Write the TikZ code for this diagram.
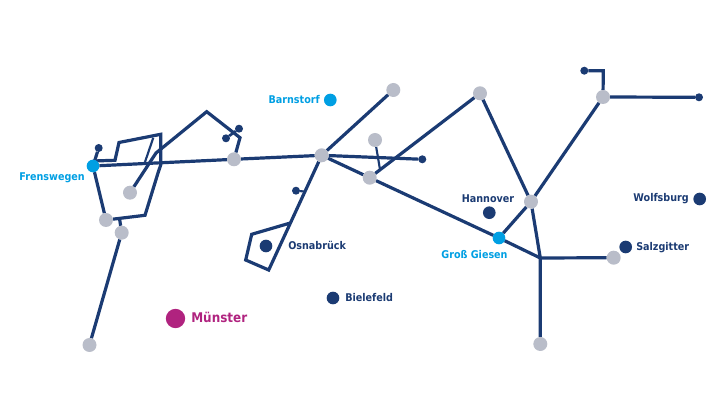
\documentclass[tikz,border=0pt]{standalone}
\usepackage{xcolor}
\usepackage{fontspec}
\setmainfont{DejaVu Sans Condensed}
\definecolor{linenavy}{HTML}{1B3B73}
\definecolor{siteblue}{HTML}{009FE3}
\definecolor{hubgray}{HTML}{B9BDC9}
\definecolor{citypink}{HTML}{B0237F}
\usetikzlibrary{backgrounds}

\begin{document}
\begin{tikzpicture}[
    x=0.75pt, y=-0.75pt,
    dot/.style={circle, inner sep=0pt, outer sep=0pt},
    hub/.style={dot, fill=hubgray, minimum size=10.5pt},
    site/.style={dot, fill=siteblue, minimum size=9.5pt},
    city/.style={dot, fill=linenavy, minimum size=9.5pt},
    stub/.style={dot, fill=linenavy, minimum size=6pt},
    lbl/.style={font=\bfseries\fontsize{8}{10}\selectfont, text=linenavy, inner sep=0pt},
    sitelbl/.style={lbl, text=siteblue},
    pipe/.style={draw=linenavy, line width=2.4pt},
    thinpipe/.style={draw=linenavy, line width=1.6pt}
  ]
    \useasboundingbox (0,0) rectangle (728,409);
    % bends
    \coordinate (f0) at (93,161);
    \coordinate (f1) at (115,160.3);
    \coordinate (f2) at (119,142.5);
    \coordinate (f3) at (160.7,134.3);
    \coordinate (f4) at (160.7,165);
    \coordinate (f5) at (158,173);
    \coordinate (f6) at (145,215.3);
    \coordinate (f7) at (119.5,218.5);
    \coordinate (t1) at (153.3,137.7);
    \coordinate (t2) at (145,162);
    \coordinate (p1) at (156,153);
    \coordinate (p2) at (206.7,111.7);
    \coordinate (p3) at (240,137.7);
    \coordinate (o1) at (289.3,223.3);
    \coordinate (o2) at (251.7,234.3);
    \coordinate (o3) at (245.7,260);
    \coordinate (o4) at (268.7,270);
    \coordinate (s1) at (304,191.5);
    \coordinate (a1) at (380,169.5);
    \coordinate (g1) at (540.3,258);
    \coordinate (n1) at (603.3,70.7);
    % stations
    \node[hub] (nordhorn) at (106,220) {};
    \node[hub] (lingen) at (121.7,232.7) {};
    \node[hub] (meppen) at (130,192.7) {};
    \node[hub] (haren) at (234,159.3) {};
    \node[hub] (rheine) at (89.5,345) {};
    \node[hub] (vechta) at (321.7,155.3) {};
    \node[hub] (diepholz) at (393.3,90) {};
    \node[hub] (sulingen) at (375,140) {};
    \node[hub] (nienburg) at (369.7,177.7) {};
    \node[hub] (walsrode) at (480,93.3) {};
    \node[hub] (peine) at (531,201.7) {};
    \node[hub] (gifhorn) at (603,97) {};
    \node[hub] (hildes) at (613.7,257.7) {};
    \node[hub] (goslar) at (540.3,344) {};
    \node[stub] (s_fren) at (98.7,148) {};
    \node[stub] (s_east) at (239,128.7) {};
    \node[stub] (s_west) at (226,138.3) {};
    \node[stub] (s_osna) at (296,190.7) {};
    \node[stub] (s_mid) at (422.3,159.3) {};
    \node[stub] (s_top) at (584.3,70.7) {};
    \node[stub] (s_far) at (699,97.3) {};
    \node[site] (frenswegen) at (93,166) {};
    \node[site] (giesen) at (499,238) {};
    % lines
    \begin{scope}[on background layer]
    \draw[thinpipe] (t1) -- (t2);
    \draw[thinpipe] (sulingen) -- (a1);
    \draw[pipe, line width=2pt] (s_west) -- (s_east);
    \draw[pipe] (f0) -- (f1) -- (f2) -- (f3) -- (f4) -- (f5) -- (f6) -- (nordhorn);
    \draw[pipe] (frenswegen) -- (haren) -- (vechta);
    \draw[pipe] (frenswegen) -- (nordhorn);
    \draw[pipe] (frenswegen) -- (s_fren);
    \draw[pipe] (f7) -- (lingen) -- (rheine);
    \draw[pipe] (meppen) -- (p1) -- (p2) -- (p3) -- (haren);
    \draw[pipe] (vechta) -- (diepholz);
    \draw[pipe] (vechta) -- (s_mid);
    \draw[pipe] (vechta) -- (nienburg) -- (giesen) -- (g1) -- (hildes);
    \draw[pipe] (nienburg) -- (walsrode) -- (peine) -- (g1) -- (goslar);
    \draw[pipe] (giesen) -- (peine) -- (gifhorn) -- (s_far);
    \draw[pipe] (gifhorn) -- (n1) -- (s_top);
    \draw[pipe] (vechta) -- (o4) -- (o3) -- (o2) -- (o1);
    \draw[thinpipe] (s_osna) -- (s1);
    \end{scope}
    % cities
    \node[site] (barnstorf) at (330.3,100) {};
    \node[city] (osnabrueck) at (266,246) {};
    \node[city] (bielefeld) at (333,298) {};
    \node[city] (hannover) at (489.3,212.7) {};
    \node[city] (salzgitter) at (625.7,247) {};
    \node[city] (wolfsburg) at (699.7,199) {};
    \node[dot, fill=citypink, minimum size=14.5pt] (muenster) at (175.5,318.5) {};
    % labels
    \node[sitelbl, anchor=base east] (l_fren) at (85,180.5) {Frenswegen};
    \node[sitelbl, anchor=base east] (l_barn) at (320,103.5) {Barnstorf};
    \node[sitelbl, anchor=base] (l_gies) at (474.5,259) {Groß Giesen};
    \node[lbl, anchor=base west] (l_osna) at (288,250) {Osnabrück};
    \node[lbl, anchor=base west] (l_biel) at (345,302) {Bielefeld};
    \node[lbl, anchor=base] (l_hann) at (488,203) {Hannover};
    \node[lbl, anchor=base east] (l_wolf) at (689,202) {Wolfsburg};
    \node[lbl, anchor=base west] (l_salz) at (636,251) {Salzgitter};
    \node[lbl, text=citypink, font=\bfseries\fontsize{10}{12}\selectfont, anchor=base west] (l_muen) at (191,323) {Münster};
\end{tikzpicture}
\end{document}
